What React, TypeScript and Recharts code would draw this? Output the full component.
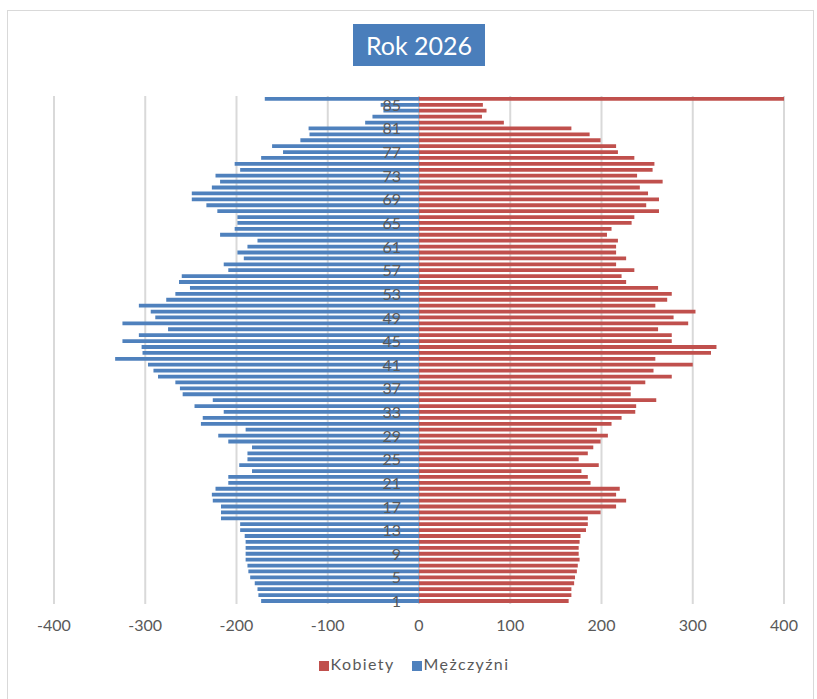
import { BarChart, Bar, XAxis, YAxis, CartesianGrid, Legend } from "recharts";

const BLUE = "#4f81bd";
const RED = "#c0504d";

// ages, bottom to top (the top row is the oldest group)
const AGES = [
  1, 2, 3, 4, 5, 6, 7, 8, 9, 10, 11, 12, 13, 14, 15, 16, 17, 18, 19, 20,
  21, 22, 23, 24, 25, 26, 27, 28, 29, 30, 31, 32, 33, 34, 35, 36, 37, 38, 39, 40,
  41, 42, 43, 44, 45, 46, 47, 48, 49, 50, 51, 52, 53, 54, 55, 56, 57, 58, 59, 60,
  61, 62, 63, 64, 65, 66, 67, 68, 69, 70, 71, 72, 73, 74, 75, 76, 77, 78, 79, 80,
  81, 82, 83, 84, 85, 86,
];

const KOBIETY = [
  164, 167, 167, 170, 171, 173, 174, 176, 175, 175, 176, 177, 183, 185, 185, 199, 216, 227, 216, 220,
  188, 185, 178, 197, 175, 185, 191, 199, 207, 195, 211, 222, 237, 238, 260, 232, 232, 248, 277, 257,
  300, 259, 320, 326, 277, 277, 262, 295, 279, 303, 259, 272, 277, 262, 227, 222, 236, 216, 227, 216,
  216, 218, 206, 211, 233, 236, 263, 249, 263, 251, 242, 267, 239, 256, 258, 236, 218, 216, 199, 187,
  167, 93, 69, 74, 70, 400,
];

const MEZCZYZNI = [
  173, 176, 177, 180, 185, 187, 188, 190, 190, 190, 190, 191, 196, 196, 217, 217, 217, 226, 227, 223,
  209, 209, 183, 197, 188, 188, 183, 209, 220, 190, 239, 237, 214, 246, 226, 259, 262, 267, 286, 291,
  297, 333, 303, 304, 325, 307, 275, 325, 289, 294, 307, 277, 267, 251, 263, 260, 209, 214, 192, 199,
  188, 177, 218, 202, 199, 199, 221, 233, 249, 249, 227, 218, 223, 196, 202, 173, 149, 161, 130, 120,
  121, 59, 51, 39, 42, 169,
];

const X_TICKS = [-400, -300, -200, -100, 0, 100, 200, 300, 400];

const data = AGES.map((age, i) => ({
  age,
  kobiety: KOBIETY[i],
  mezczyzni: -MEZCZYZNI[i],
}));

const W = 817;
const H = 699;
const PLOT_LEFT = 54;
const PLOT_RIGHT = 784;
const ZERO_X = (PLOT_LEFT + PLOT_RIGHT) / 2;
const FONT = "Lato, 'Open Sans', sans-serif";

function AgeTick(props: any) {
  const { y, payload } = props;
  return (
    <text x={ZERO_X - 18} y={y} dy={6} textAnchor="end" fill="#595959" fontSize={16} fontFamily={FONT}>
      {payload.value}
    </text>
  );
}

export default function App() {
  return (
    <div style={{ position: "absolute", left: 0, top: 0, width: W, height: H, background: "#fff", overflow: "hidden" }}>
      <div style={{ position: "absolute", left: 7, top: 10, width: 805, height: 700, border: "1px solid #d9d9d9" }} />
      <div
        style={{
          position: "absolute", left: 353, top: 24, width: 132, height: 42,
          background: "#4a7ebb", color: "#fff", fontFamily: FONT, fontSize: 25,
          display: "flex", alignItems: "center", justifyContent: "center", zIndex: 2,
        }}
      >
        Rok 2026
      </div>
      <BarChart
        width={W}
        height={H}
        data={data}
        layout="vertical"
        stackOffset="sign"
        barSize={3.8}
        margin={{ top: 96, right: W - PLOT_RIGHT, bottom: 65, left: PLOT_LEFT - 1 }}
        style={{ position: "absolute", left: 0, top: 0 }}
      >
        <CartesianGrid horizontal={false} stroke="#d9d9d9" strokeWidth={2} />
        <XAxis
          type="number"
          domain={[-400, 400]}
          ticks={X_TICKS}
          axisLine={false}
          tickLine={false}
          tickSize={0}
          tickMargin={16}
          height={30}
          tick={{ fill: "#595959", fontSize: 16, fontFamily: FONT }}
        />
        <Bar dataKey="kobiety" name="Kobiety" stackId="p" fill={RED} isAnimationActive={false} />
        <Bar dataKey="mezczyzni" name="Mężczyźni" stackId="p" fill={BLUE} isAnimationActive={false} />
        <YAxis
          type="category"
          dataKey="age"
          reversed
          interval={3}
          width={1}
          axisLine={false}
          tickLine={false}
          tick={<AgeTick />}
        />
        <Legend
          verticalAlign="middle"
          align="center"
          layout="horizontal"
          iconType="square"
          iconSize={10}
          wrapperStyle={{ top: 654, left: 14, width: W, fontFamily: FONT, fontSize: 16, letterSpacing: 1.4 }}
          formatter={(value: string) => (
            <span style={{ color: "#595959", marginLeft: -2, marginRight: 7 }}>{value}</span>
          )}
        />
      </BarChart>
    </div>
  );
}
